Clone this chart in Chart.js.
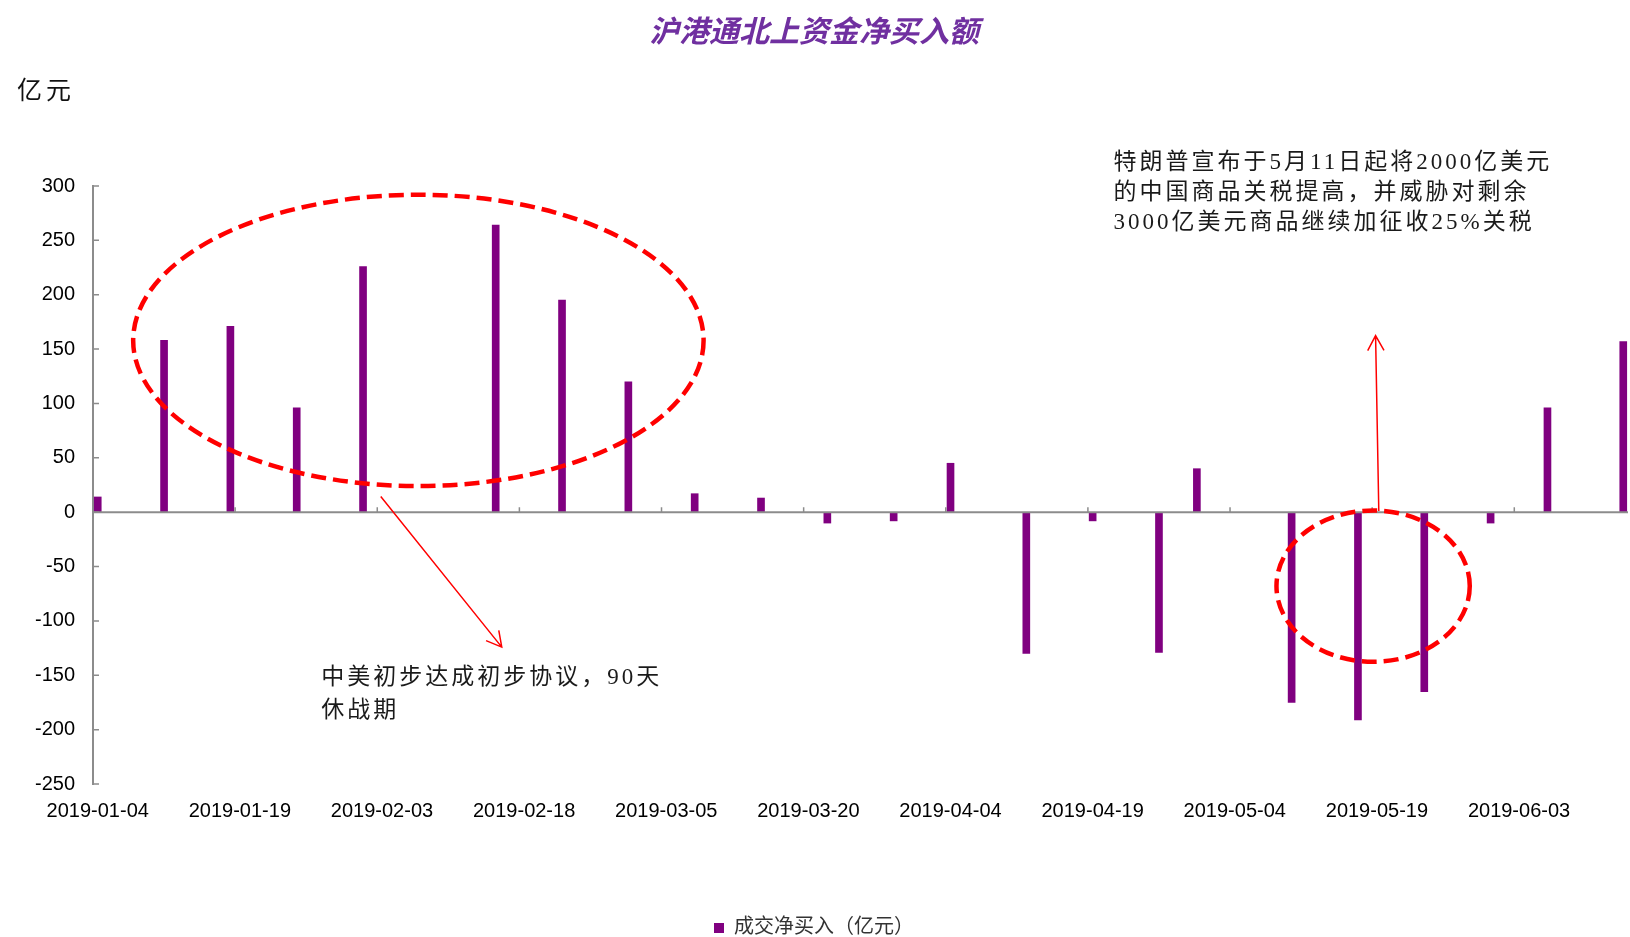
<!DOCTYPE html>
<html lang="zh-CN">
<head>
<meta charset="utf-8">
<title>沪港通北上资金净买入额</title>
<script src="https://cdn.jsdelivr.net/npm/chart.js@4.4.1/dist/chart.umd.min.js"></script>
<style>
  html, body { margin: 0; padding: 0; background: #fff; }
  #wrap { width: 1630px; height: 937px; }
</style>
</head>
<body>
<div id="wrap"><canvas id="northbound" width="1630" height="937"></canvas></div>
<script>
// calendar range of the category axis (one category per day)
const startDate = '2019-01-04';
const endDate = '2019-06-14';

// weekly net northbound buying, 亿元
const tradeDates = [
  '2019-01-04', '2019-01-11', '2019-01-18', '2019-01-25', '2019-02-01',
  '2019-02-15', '2019-02-22', '2019-03-01', '2019-03-08', '2019-03-15',
  '2019-03-22', '2019-03-29', '2019-04-04', '2019-04-12', '2019-04-19',
  '2019-04-26', '2019-04-30', '2019-05-10', '2019-05-17', '2019-05-24',
  '2019-05-31', '2019-06-06', '2019-06-14'
];
const netBuy = [
  14, 158, 171, 96, 226,
  264, 195, 120, 17, 13,
  -10, -8, 45, -130, -8,
  -129, 40, -175, -191, -165,
  -10, 96, 157
];

const yMin = -250;
const yMax = 300;
const yStep = 50;
const labelEvery = 15;   // a date label every 15 days

const chartTitle = '沪港通北上资金净买入额';
const seriesName = '成交净买入（亿元）';
const unitLabel = '亿元';

// callouts, placed in axis units (x = day index, y = 亿元)
const notes = [
  { lines: ['中美初步达成初步协议，90天', '休战期'], x: 23.6, y: -152.7, lineGap: 33 },
  { lines: ['特朗普宣布于5月11日起将2000亿美元', '的中国商品关税提高，并威胁对剩余', '3000亿美元商品继续加征收25%关税'],
    x: 107.2, y: 321.6, lineGap: 30 }
];
const rings = [
  { x: 33.84, y: 158, rx: 30.1, ry: 134 },
  { x: 134.6, y: -68, rx: 10.2, ry: 69.6 }
];
const arrows = [
  { from: [29.87, 14.4], to: [42.64, -124.1] },
  { from: [135.2, 1], to: [134.86, 162.4] }
];

const days = [];
for (let t = Date.parse(startDate); t <= Date.parse(endDate); t += 864e5) {
  days.push(new Date(t).toISOString().slice(0, 10));
}
const values = days.map(d => {
  const k = tradeDates.indexOf(d);
  return k < 0 ? null : netBuy[k];
});

const axisGrey = '#8c8c8c';
const noteFont = "23px 'Liberation Serif', 'Noto Sans CJK SC'";

const sketch = {
  id: 'sketch',
  afterDatasetsDraw(chart) {
    const { ctx, chartArea: a, scales: { x, y } } = chart;
    const y0 = y.getPixelForValue(0);
    ctx.save();
    ctx.strokeStyle = axisGrey;
    ctx.lineWidth = 2;
    ctx.beginPath();
    ctx.moveTo(a.left, y0);
    ctx.lineTo(a.right, y0);
    ctx.stroke();

    ctx.lineWidth = 1.5;
    ctx.beginPath();
    // date tick marks stand on the zero line
    for (let i = labelEvery; i < days.length; i += labelEvery) {
      const px = x.getPixelForValue(i - 0.5);
      ctx.moveTo(px, y0);
      ctx.lineTo(px, y0 - 5);
    }
    // value tick marks point into the plot
    y.ticks.forEach(t => {
      const py = y.getPixelForValue(t.value);
      ctx.moveTo(a.left, py);
      ctx.lineTo(a.left + 6, py);
    });
    ctx.stroke();
    ctx.restore();
  },
  afterDraw(chart) {
    const { ctx, scales: { x, y } } = chart;
    ctx.save();

    // unit above the value axis
    ctx.fillStyle = '#111';
    ctx.font = "25px 'Liberation Serif', 'Noto Sans CJK SC'";
    ctx.letterSpacing = '4px';
    ctx.textAlign = 'left';
    ctx.textBaseline = 'middle';
    ctx.fillText(unitLabel, 17, 92);

    // dashed rings
    ctx.strokeStyle = '#ff0000';
    ctx.lineWidth = 4.5;
    ctx.setLineDash([15, 7]);
    rings.forEach(r => {
      const cx = x.getPixelForValue(r.x);
      const cy = y.getPixelForValue(r.y);
      const rx = x.getPixelForValue(r.x + r.rx) - cx;
      const ry = y.getPixelForValue(r.y - r.ry) - cy;
      ctx.beginPath();
      ctx.ellipse(cx, cy, rx, ry, 0, 0, Math.PI * 2);
      ctx.stroke();
    });
    ctx.setLineDash([]);

    // arrows with open heads
    ctx.lineWidth = 1.5;
    arrows.forEach(ar => {
      const x1 = x.getPixelForValue(ar.from[0]), y1 = y.getPixelForValue(ar.from[1]);
      const x2 = x.getPixelForValue(ar.to[0]), y2 = y.getPixelForValue(ar.to[1]);
      const ang = Math.atan2(y2 - y1, x2 - x1);
      const head = 17, spread = 0.5;
      ctx.beginPath();
      ctx.moveTo(x1, y1);
      ctx.lineTo(x2, y2);
      ctx.moveTo(x2 - head * Math.cos(ang - spread), y2 - head * Math.sin(ang - spread));
      ctx.lineTo(x2, y2);
      ctx.lineTo(x2 - head * Math.cos(ang + spread), y2 - head * Math.sin(ang + spread));
      ctx.stroke();
    });

    // callout text
    ctx.fillStyle = '#1a1a1a';
    ctx.font = noteFont;
    ctx.letterSpacing = '3px';
    notes.forEach(n => {
      const nx = x.getPixelForValue(n.x);
      const ny = y.getPixelForValue(n.y);
      n.lines.forEach((line, i) => ctx.fillText(line, nx, ny + i * n.lineGap));
    });
    ctx.letterSpacing = '0px';
    ctx.restore();
  }
};

new Chart(document.getElementById('northbound'), {
  type: 'bar',
  data: {
    labels: days,
    datasets: [{
      label: seriesName,
      data: values,
      backgroundColor: '#800080',
      borderWidth: 0,
      barThickness: 7
    }]
  },
  options: {
    responsive: false,
    animation: false,
    devicePixelRatio: 1,
    layout: { padding: { left: 0, right: 2, top: 0, bottom: -11 } },
    plugins: {
      title: {
        display: true,
        text: chartTitle,
        color: '#7030a0',
        font: { family: "'Noto Sans CJK SC'", size: 30, weight: 'bold', style: 'italic' },
        padding: { top: 13, bottom: 137 }
      },
      legend: {
        position: 'bottom',
        labels: {
          boxWidth: 10,
          boxHeight: 10,
          padding: 4,
          color: '#333',
          font: { family: "'Liberation Serif', 'Noto Sans CJK SC'", size: 20 }
        }
      },
      tooltip: { enabled: false }
    },
    scales: {
      x: {
        grid: { display: false },
        border: { display: false },
        ticks: {
          autoSkip: false,
          maxRotation: 0,
          minRotation: 0,
          padding: 7,
          color: '#000',
          font: { family: "'Liberation Sans'", size: 20 },
          callback: (v, i) => (i % labelEvery === 0 ? days[i] : '')
        },
        afterFit: s => {
          s.height = 130;
          s.paddingLeft = 0;
          s.paddingRight = 0;
        }
      },
      y: {
        min: yMin,
        max: yMax,
        ticks: {
          stepSize: yStep,
          padding: 18,
          color: '#000',
          font: { family: "'Liberation Sans'", size: 20 }
        },
        grid: { drawOnChartArea: false, drawTicks: false },
        border: { color: axisGrey, width: 2 },
        afterFit: s => { s.width = 93; }
      }
    }
  },
  plugins: [sketch]
});
</script>
</body>
</html>
